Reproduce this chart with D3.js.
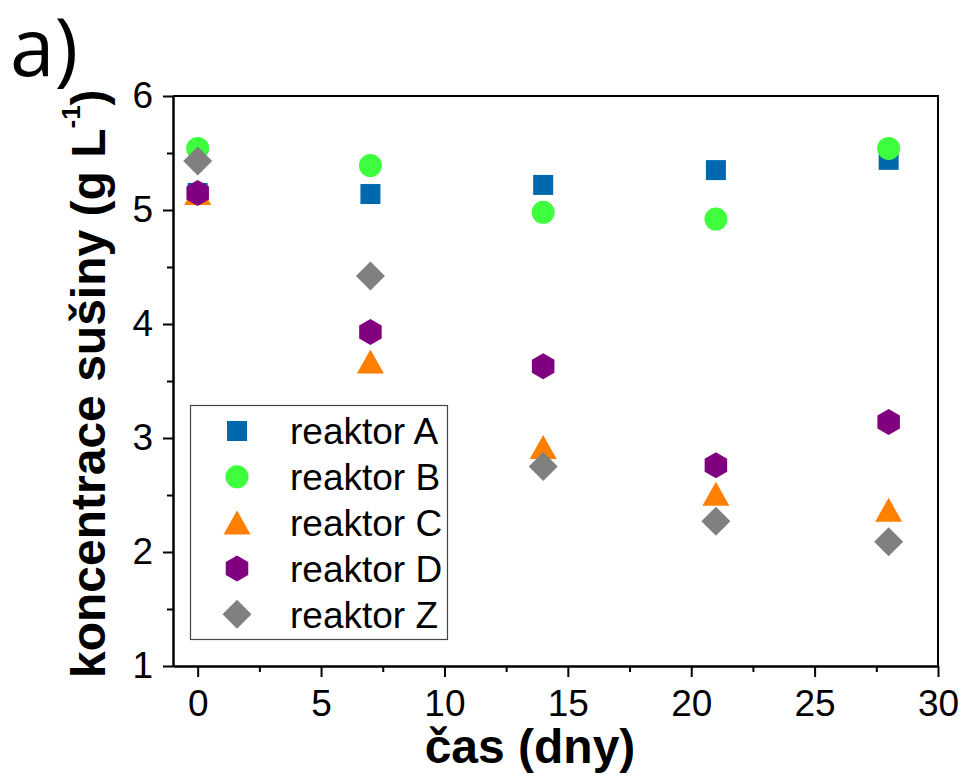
<!DOCTYPE html>
<html>
<head>
<meta charset="utf-8">
<script src="https://cdn.jsdelivr.net/npm/d3@7"></script>
<style>
    body { margin: 0; background: #fff; }
    svg { display: block; }
    text { font-family: "Liberation Sans", Arial, sans-serif; }
</style>
</head>
<body>
<div id="chart"></div>
<script>
// days of measurement
const days = [0, 7, 14, 21, 28];

// dry matter concentration per reactor (g/L)
const reaktorA = [5.15, 5.14, 5.22, 5.35, 5.44];
const reaktorB = [5.54, 5.39, 4.98, 4.92, 5.54];
const reaktorC = [5.15, 3.67, 2.92, 2.51, 2.37];
const reaktorD = [5.15, 3.93, 3.63, 2.76, 3.14];
const reaktorZ = [5.43, 4.42, 2.75, 2.27, 2.09];

const seriesNames = ["reaktor A", "reaktor B", "reaktor C", "reaktor D", "reaktor Z"];

const xTicks = [0, 5, 10, 15, 20, 25, 30];
const xMinor = [2.5, 7.5, 12.5, 17.5, 22.5, 27.5];
const yTicks = [1, 2, 3, 4, 5, 6];
const yMinor = [1.5, 2.5, 3.5, 4.5, 5.5];

let series = [
    {name: seriesNames[0], values: reaktorA, shape: "square", color: "#0068AC"},
    {name: seriesNames[1], values: reaktorB, shape: "circle", color: "#3DFF3D"},
    {name: seriesNames[2], values: reaktorC, shape: "triangle", color: "#FF7F00"},
    {name: seriesNames[3], values: reaktorD, shape: "hexagon", color: "#800080"},
    {name: seriesNames[4], values: reaktorZ, shape: "diamond", color: "#808080"}
];

let width = 963, height = 776;
let plot = {left: 173, right: 938, top: 96, bottom: 666};

let svg = d3.select("#chart")
    .append("svg")
    .attr("width", width)
    .attr("height", height);

let x = d3.scaleLinear()
    .domain([-1, 30])
    .range([plot.left, plot.right]);

let y = d3.scaleLinear()
    .domain([1, 6])
    .range([plot.bottom, plot.top]);

// marker outlines, centred on 0,0
function markerPath(shape) {
    let p = d3.path();
    if (shape == "square") {
        p.rect(-10, -10, 20, 20);
    } else if (shape == "circle") {
        p.arc(0, 0, 11.5, 0, 2 * Math.PI);
    } else if (shape == "triangle") {
        p.moveTo(0, -12); p.lineTo(13.5, 12); p.lineTo(-13.5, 12); p.closePath();
    } else if (shape == "hexagon") {
        for (let i = 0; i < 6; i++) {
            let a = -Math.PI / 2 + i * Math.PI / 3;
            if (i == 0) p.moveTo(13 * Math.cos(a), 13 * Math.sin(a));
            else p.lineTo(13 * Math.cos(a), 13 * Math.sin(a));
        }
        p.closePath();
    } else if (shape == "diamond") {
        p.moveTo(0, -14.5); p.lineTo(14.5, 0); p.lineTo(0, 14.5); p.lineTo(-14.5, 0); p.closePath();
    }
    return p.toString();
}

// axes
let xAxis = d3.axisBottom(x).tickValues(xTicks).tickSize(11).tickSizeOuter(0).tickPadding(13).tickFormat(d3.format("d"));
let xAxisMinor = d3.axisBottom(x).tickValues(xMinor).tickSize(6).tickSizeOuter(0).tickFormat("");
let yAxis = d3.axisLeft(y).tickValues(yTicks).tickSize(10).tickSizeOuter(0).tickPadding(10).tickFormat(d3.format("d"));
let yAxisMinor = d3.axisLeft(y).tickValues(yMinor).tickSize(6).tickSizeOuter(0).tickFormat("");

function styleAxis(g) {
    g.selectAll("path").attr("stroke", "#000").attr("stroke-width", 2);
    g.selectAll("line").attr("stroke", "#000").attr("stroke-width", 2);
    g.selectAll("text").attr("fill", "#000").style("font-size", "37px");
}

svg.append("g").attr("transform", "translate(0," + plot.bottom + ")").call(xAxis).call(styleAxis);
svg.append("g").attr("transform", "translate(0," + plot.bottom + ")").call(xAxisMinor).call(styleAxis);
svg.append("g").attr("transform", "translate(" + plot.left + ",0)").call(yAxis).call(styleAxis);
svg.append("g").attr("transform", "translate(" + plot.left + ",0)").call(yAxisMinor).call(styleAxis);

// top and right frame lines
svg.append("path")
    .attr("d", "M" + plot.left + "," + plot.top + "H" + plot.right + "V" + plot.bottom)
    .attr("fill", "none")
    .attr("stroke", "#000")
    .attr("stroke-width", 2);

// data points
series.forEach(s => {
    svg.append("g")
        .selectAll("path")
        .data(s.values)
        .enter()
        .append("path")
        .attr("d", markerPath(s.shape))
        .attr("transform", (d, i) => "translate(" + x(days[i]) + "," + y(d) + ")")
        .attr("fill", s.color);
});

// legend
let legend = svg.append("g");
legend.append("rect")
    .attr("x", 190.5).attr("y", 405.5)
    .attr("width", 257).attr("height", 234)
    .attr("fill", "#fff")
    .attr("stroke", "#444")
    .attr("stroke-width", 1.2);

series.forEach((s, i) => {
    let ly = 431 + i * 45.8;
    legend.append("path")
        .attr("d", markerPath(s.shape))
        .attr("transform", "translate(237," + ly + ")")
        .attr("fill", s.color);
    legend.append("text")
        .attr("x", 290)
        .attr("y", ly)
        .attr("dy", "0.36em")
        .style("font-size", "37px")
        .text(s.name);
});

// axis titles
svg.append("text")
    .attr("x", 530)
    .attr("y", 763)
    .attr("text-anchor", "middle")
    .style("font-size", "48px")
    .style("font-weight", "bold")
    .text("čas (dny)");

let yTitle = svg.append("text")
    .attr("transform", "translate(105,678) rotate(-90)")
    .attr("text-anchor", "start")
    .style("font-size", "48px")
    .style("font-weight", "bold");
yTitle.append("tspan").text("koncentrace sušiny (g L");
yTitle.append("tspan").attr("dy", -25).style("font-size", "26px").text("-1");
yTitle.append("tspan").attr("dy", 25).text(")");

// panel label
svg.append("text")
    .attr("x", 10)
    .attr("y", 76)
    .style("font-family", "'Open Sans', sans-serif")
    .style("font-size", "80px")
    .text("a)");
</script>
</body>
</html>
